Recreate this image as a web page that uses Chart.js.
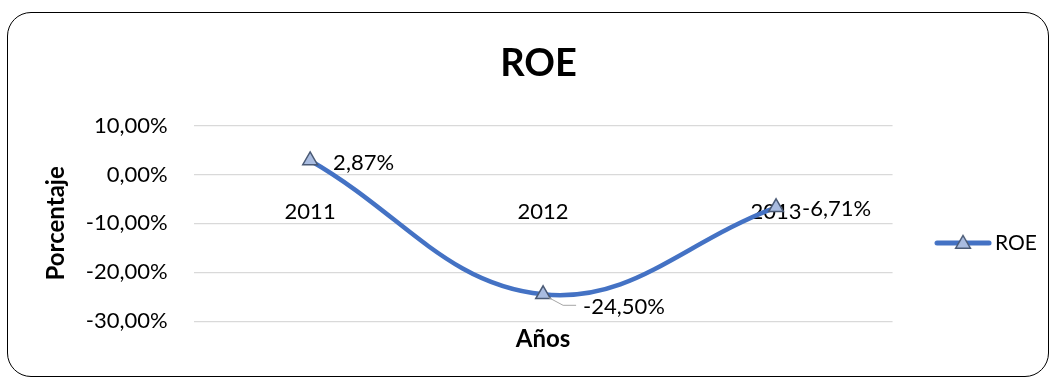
<!DOCTYPE html>
<html>
<head>
<meta charset="utf-8">
<title>ROE</title>
<script src="https://cdn.jsdelivr.net/npm/chart.js@4/dist/chart.umd.min.js"></script>
<style>
  html, body { margin: 0; padding: 0; background: #fff; }
  #wrap { position: relative; width: 1054px; height: 383px; overflow: hidden; }
  #frame {
    position: absolute; left: 7px; top: 12px; width: 1042px; height: 365px;
    border: 1.5px solid #000; border-radius: 24px; box-sizing: border-box;
  }
  #c { position: absolute; left: 0; top: 0; }
</style>
</head>
<body>
<div id="wrap">
  <div id="frame"></div>
  <canvas id="c" width="1054" height="383"></canvas>
</div>
<script>
// Return on equity by year, in percent
const years = ['2011', '2012', '2013'];
const roeValues = [2.87, -24.50, -6.71];
const yTicks = [10, 0, -10, -20, -30];

const LINE_BLUE = '#4472C4';
const MARKER_FILL = '#A9BCE0';
const MARKER_EDGE = '#4A5A75';

function pct(v) {
  return v.toFixed(2).replace('.', ',') + '%';
}

// Legend symbol: line segment with a triangle marker in the middle
function legendSymbol() {
  const cv = document.createElement('canvas');
  cv.width = 58; cv.height = 22;
  const g = cv.getContext('2d');
  g.strokeStyle = LINE_BLUE; g.lineWidth = 5; g.lineCap = 'round';
  g.beginPath(); g.moveTo(3, 11); g.lineTo(55, 11); g.stroke();
  const r = 8.5, cx = 29, cy = 12;
  g.beginPath();
  g.moveTo(cx, cy - r);
  g.lineTo(cx + r * 0.866, cy + r * 0.5);
  g.lineTo(cx - r * 0.866, cy + r * 0.5);
  g.closePath();
  g.fillStyle = MARKER_FILL; g.fill();
  g.strokeStyle = MARKER_EDGE; g.lineWidth = 1.5; g.lineCap = 'butt'; g.stroke();
  return cv;
}

// Value labels next to each point, with an optional leader line
const pointLabels = {
  id: 'pointLabels',
  afterDatasetsDraw(chart, args, opts) {
    const ctx = chart.ctx;
    const meta = chart.getDatasetMeta(0);
    const data = chart.data.datasets[0].data;
    ctx.save();
    ctx.font = opts.font;
    ctx.fillStyle = opts.color;
    ctx.textAlign = 'left';
    ctx.textBaseline = 'middle';
    meta.data.forEach((pt, i) => {
      const off = opts.offsets[i];
      const tx = pt.x + off[0], ty = pt.y + off[1];
      if (off[2]) {
        ctx.strokeStyle = opts.leaderColor;
        ctx.lineWidth = 1;
        ctx.beginPath();
        ctx.moveTo(pt.x + 5, pt.y + 3);
        ctx.lineTo(tx - 20, ty - 2);
        ctx.lineTo(tx - 7, ty - 2);
        ctx.stroke();
      }
      ctx.fillText(pct(data[i]), tx, ty);
    });
    ctx.restore();
  }
};

Chart.defaults.font.family = 'Lato, "Noto Sans", sans-serif';
Chart.defaults.color = '#000';

new Chart(document.getElementById('c'), {
  type: 'line',
  data: {
    labels: years,
    datasets: [{
      label: 'ROE',
      data: roeValues,
      borderColor: LINE_BLUE,
      borderWidth: 4.5,
      tension: 0.4,
      pointStyle: 'triangle',
      pointRadius: 8.5,
      pointHoverRadius: 8.5,
      pointBackgroundColor: MARKER_FILL,
      pointBorderColor: MARKER_EDGE,
      pointBorderWidth: 1.5,
      clip: false
    }]
  },
  options: {
    responsive: false,
    animation: false,
    devicePixelRatio: 1,
    events: [],
    layout: { padding: { left: 30, right: 7, top: 0, bottom: 0 } },
    scales: {
      x: {
        type: 'category',
        position: 'bottom',
        offset: true,
        ticks: { display: false },
        grid: { display: false, drawTicks: false },
        border: { display: false },
        title: {
          display: true, text: 'Años',
          font: { size: 24, weight: 'bold' },
          padding: { top: 4, bottom: 29 }
        }
      },
      // year labels sit just under the zero line
      xLab: {
        type: 'category',
        labels: years,
        position: { y: 0 },
        offset: true,
        grid: { display: false, drawTicks: false },
        border: { display: false },
        ticks: { font: { size: 22 }, padding: 24, maxRotation: 0 },
        afterFit(scale) { scale.paddingLeft = 0; scale.paddingRight = 0; }
      },
      y: {
        min: -30, max: 10,
        afterBuildTicks(scale) { scale.ticks = yTicks.map(v => ({ value: v })); },
        ticks: {
          font: { size: 22 },
          padding: 26,
          callback: v => pct(v)
        },
        grid: { color: '#D9D9D9', lineWidth: 1.3, drawTicks: false },
        border: { display: false },
        title: {
          display: true, text: 'Porcentaje',
          font: { size: 24, weight: 'bold' },
          padding: { top: 12, bottom: -11 }
        }
      }
    },
    plugins: {
      title: {
        display: true, text: 'ROE',
        font: { size: 38, weight: 'bold' },
        color: '#000',
        padding: { top: 41, bottom: 39 }
      },
      legend: {
        position: 'right',
        title: { display: true, text: ' ', font: { size: 10 }, padding: { top: 91, bottom: 0 } },
        labels: {
          usePointStyle: true,
          pointStyle: legendSymbol(),
          pointStyleWidth: 43,
          padding: 49,
          font: { size: 21 },
          color: '#000'
        }
      },
      tooltip: { enabled: false },
      pointLabels: {
        font: '22px Lato, "Noto Sans", sans-serif',
        color: '#000',
        leaderColor: '#A6A6A6',
        offsets: [[23, 2, false], [40, 13, true], [26, 2, false]]
      }
    }
  },
  plugins: [pointLabels]
});
</script>
</body>
</html>
